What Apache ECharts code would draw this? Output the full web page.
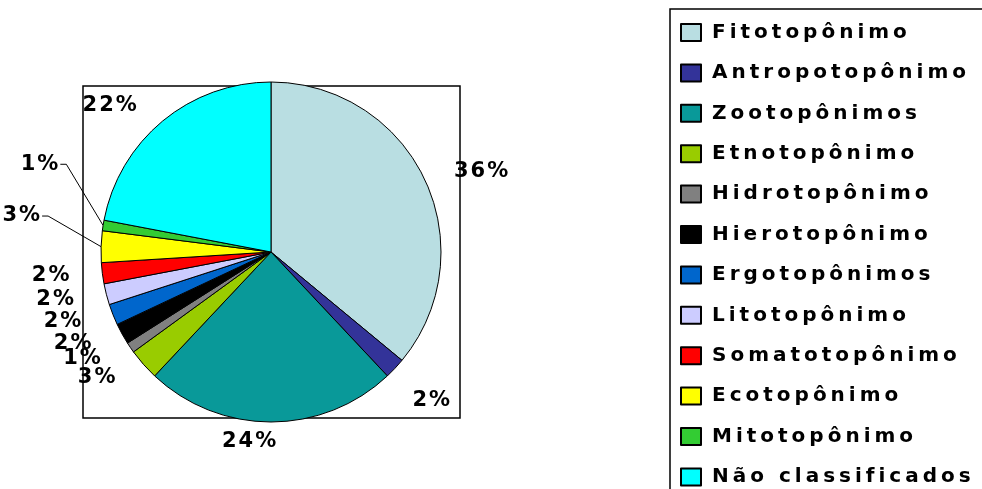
<!DOCTYPE html>
<html>
<head>
<meta charset="utf-8">
<script src="https://cdn.jsdelivr.net/npm/echarts@6/dist/echarts.min.js"></script>
<style>html,body{margin:0;padding:0;background:#fff}#c{width:982px;height:489px}</style>
</head>
<body>
<div id="c"></div>
<script>
const categories = ['Fitotopônimo','Antropotopônimo','Zootopônimos','Etnotopônimo','Hidrotopônimo','Hierotopônimo','Ergotopônimos','Litotopônimo','Somatotopônimo','Ecotopônimo','Mitotopônimo','Não classificados'];
const values = [36,2,24,3,1,2,2,2,2,3,1,22];
const colors = ['#B9DEE2','#333399','#099999','#99CC00','#808080','#000000','#0066CC','#CCCCFF','#FF0000','#FFFF00','#33CC33','#00FFFF'];
const leaderShown = [false,false,false,false,false,false,false,false,false,true,true,false];
// label nudges (style only), relative to the library's own label placement
const labelNudge = {1:[-8,18], 2:[-60,0], 9:[-28,-30], 10:[-12,-58]};

// wide letter spacing of the original bold text
(function(){
  const P = CanvasRenderingContext2D.prototype;
  if (!('letterSpacing' in P)) return;
  const spacingFor = (f, t) => (String(t).length > 1 && /bold/.test(f)) ? (/20px/.test(f) ? '4px' : (/21px/.test(f) ? '2px' : '0px')) : '0px';
  const ft = P.fillText, mt = P.measureText, st = P.strokeText;
  P.fillText = function(t){ const o=this.letterSpacing; this.letterSpacing=spacingFor(this.font,t); const r=ft.apply(this,arguments); this.letterSpacing=o; return r; };
  P.strokeText = function(t){ const o=this.letterSpacing; this.letterSpacing=spacingFor(this.font,t); const r=st.apply(this,arguments); this.letterSpacing=o; return r; };
  P.measureText = function(t){ const o=this.letterSpacing; this.letterSpacing=spacingFor(this.font,t); const r=mt.apply(this,arguments); this.letterSpacing=o; return r; };
})();

const chart = echarts.init(document.getElementById('c'), null, {renderer:'canvas'});
const FONT = 'DejaVu Sans';
chart.setOption({
  animation:false,
  backgroundColor:'#fff',
  grid:{show:true,left:83,top:86,width:377,height:332,borderColor:'#000',borderWidth:1.5,backgroundColor:'transparent'},
  xAxis:{type:'value',show:false},
  yAxis:{type:'value',show:false},
  legend:{
    orient:'vertical', left:670, top:9, height:480,
    padding:[13.5,120,40,10],
    borderColor:'#000', borderWidth:1.5,
    itemWidth:20, itemHeight:17, itemGap:20.4,
    icon:'rect',
    textStyle:{fontFamily:FONT,fontWeight:'bold',fontSize:20,color:'#000',lineHeight:20,padding:[0,0,0,6]},
    data:categories
  },
  series:[{
    type:'pie',
    center:[271,252],
    radius:170,
    startAngle:90,
    clockwise:true,
    avoidLabelOverlap:false,
    labelLayout:function(p){
      const n = labelNudge[p.dataIndex];
      if (!n) return {hideOverlap:false};
      const r = p.labelRect;
      return {x:r.x + r.width + n[0], y:r.y + r.height/2 + n[1], align:'right', verticalAlign:'middle', hideOverlap:false};
    },
    itemStyle:{borderColor:'#000',borderWidth:1},
    label:{show:true,position:'outside',formatter:'{c}%',fontFamily:FONT,fontWeight:'bold',fontSize:21,color:'#000'},
    labelLine:{show:false,length:20,length2:6,lineStyle:{color:'#000',width:1}},
    data:categories.map((n,i)=>({name:n,value:values[i],itemStyle:{color:colors[i]},labelLine:{show:leaderShown[i]}}))
  }]
});
</script>
</body>
</html>
